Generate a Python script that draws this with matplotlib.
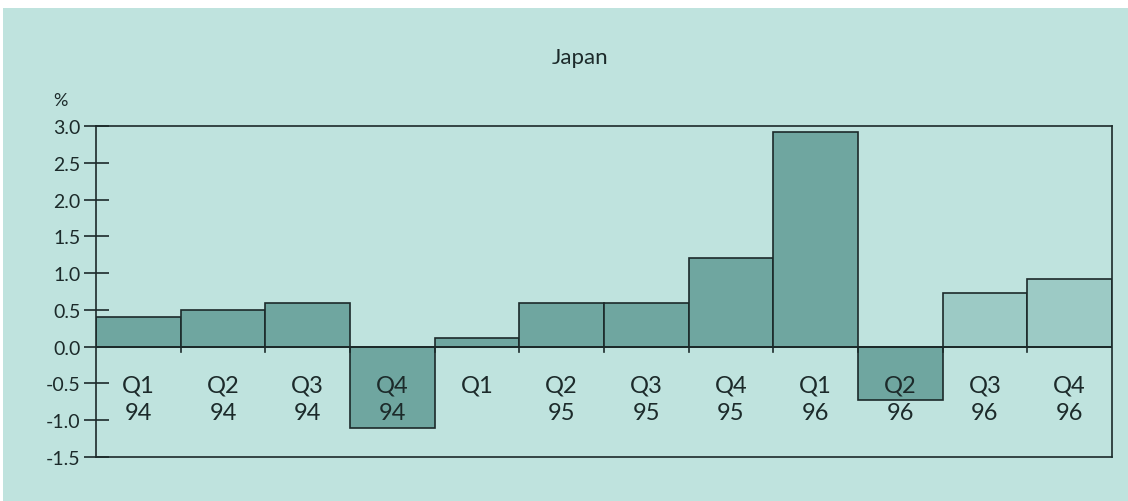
import matplotlib.pyplot as plt
from matplotlib.patches import Rectangle
import numpy as np

# --- Data ---
quarters = ["Q1", "Q2", "Q3", "Q4", "Q1", "Q2", "Q3", "Q4", "Q1", "Q2", "Q3", "Q4"]
years = ["94", "94", "94", "94", "", "95", "95", "95", "96", "96", "96", "96"]
values = [0.4, 0.5, 0.6, -1.1, 0.12, 0.6, 0.6, 1.2, 2.92, -0.72, 0.73, 0.92]
forecast = [False] * 10 + [True, True]

BG = "#bfe3de"
DARK = "#6fa6a0"
LIGHT = "#9ccac5"
INK = "#1c2a2a"

plt.rcParams['font.family'] = ['Lato', 'DejaVu Sans']

fig = plt.figure(figsize=(11.28, 5.02), dpi=100)
fig.patch.set_facecolor("white")
fig.patches.append(Rectangle((3 / 1128, -0.01), 1, 1.01 - 9 / 502, transform=fig.transFigure,
                             facecolor=BG, edgecolor="none", zorder=-10))

ax = fig.add_axes([96 / 1128, (502 - 458) / 502, (1112 - 96) / 1128, (458 - 127) / 502])
ax.set_facecolor(BG)

x = np.arange(len(values))
colors = [LIGHT if f else DARK for f in forecast]
ax.bar(x, values, width=1.0, color=colors, edgecolor=INK, linewidth=1.2, zorder=2)
ax.axhline(0, color=INK, linewidth=1.4, zorder=3)

# little ticks below the zero line at bar boundaries
for b in x[1:] - 0.5:
    ax.plot([b, b], [0, -0.07], color=INK, linewidth=1.2, zorder=3)

# quarter / year labels inside the plot
for i, (q, y) in enumerate(zip(quarters, years)):
    ax.text(i, -0.52, q, ha="center", va="center", fontsize=17, color=INK, zorder=4)
    if y:
        ax.text(i, -0.89, y, ha="center", va="center", fontsize=17, color=INK, zorder=4)

ax.set_xlim(-0.5, 11.5)
ax.set_ylim(-1.5, 3.0)
ax.set_yticks(np.arange(-1.5, 3.01, 0.5))
ax.set_yticklabels([f"{v:.1f}" for v in np.arange(-1.5, 3.01, 0.5)])
ax.set_xticks([])
ax.tick_params(axis="y", direction="inout", length=18, width=1.2, color=INK,
               labelsize=14, labelcolor=INK, pad=2)
for s in ax.spines.values():
    s.set_color(INK)
    s.set_linewidth(1.2)

fig.text(60 / 1128, 1 - 101 / 502, "%", ha="center", va="center", fontsize=13, color=INK)
fig.text(580 / 1128, 1 - 58 / 502, "Japan", ha="center", va="center", fontsize=16, color=INK)

fig.savefig("out.png", dpi=100, facecolor=fig.get_facecolor())
